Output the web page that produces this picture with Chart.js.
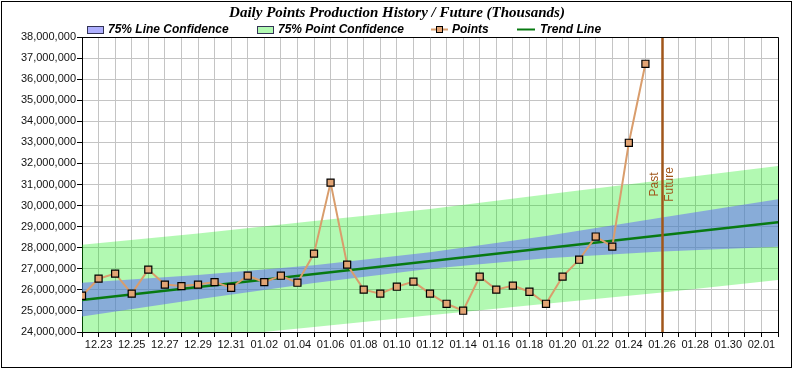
<!DOCTYPE html>
<html>
<head>
<meta charset="utf-8">
<script src="https://cdn.jsdelivr.net/npm/chart.js@4/dist/chart.umd.min.js"></script>
<style>
  html, body { margin: 0; padding: 0; background: #fff; }
  #wrap { width: 794px; height: 369px; position: relative; }
</style>
</head>
<body>
<div id="wrap"><canvas id="chart"></canvas></div>
<script>
// day labels, one per day from 12.22 to 02.02
const dayLabels = [
  '12.22', '12.23', '12.24', '12.25', '12.26', '12.27', '12.28', '12.29', '12.30', '12.31',
  '01.01', '01.02', '01.03', '01.04', '01.05', '01.06', '01.07', '01.08', '01.09', '01.10',
  '01.11', '01.12', '01.13', '01.14', '01.15', '01.16', '01.17', '01.18', '01.19', '01.20',
  '01.21', '01.22', '01.23', '01.24', '01.25', '01.26', '01.27', '01.28', '01.29', '01.30',
  '01.31', '02.01', '02.02',
];

// daily points, 12.22 .. 01.25
const pointValues = [
  25720000, 26530000, 26770000, 25820000, 26960000, 26250000, 26180000, 26250000, 26370000, 26100000,
  26670000, 26370000, 26670000, 26340000, 27720000, 31090000, 27200000, 26010000, 25820000, 26150000,
  26390000, 25820000, 25340000, 25010000, 26630000, 26010000, 26200000, 25910000, 25340000, 26630000,
  27430000, 28530000, 28050000, 32980000, 36730000,
];

const trendDays = [0, 42];
const trendValues = [25520000, 29210000];

// confidence bands read at weekly days
const bandDays = [0, 7, 14, 21, 28, 35, 42];
const lineUpper = [26340000, 26700000, 27170000, 27780000, 28560000, 29430000, 30300000];
const lineLower = [24730000, 25550000, 26320000, 27000000, 27500000, 27820000, 28050000];
const pointUpper = [28140000, 28680000, 29270000, 29840000, 30520000, 31200000, 31880000];
const pointLower = [23140000, 23690000, 24240000, 24790000, 25340000, 25880000, 26470000];

const pastFutureDay = 35;

const yMin = 24000000;
const yMax = 38000000;

const GREEN_FILL = 'rgba(0,235,0,0.3)';
const BLUE_FILL = 'rgba(94,95,253,0.5)';
const POINT_LINE = '#d99d6c';
const POINT_FILL = '#e2a474';
const TREND = '#087a12';
const PAST = '#a0561a';

const toXY = (xs, ys) => xs.map((x, i) => ({ x, y: ys[i] }));

const frame = {
  id: 'frame',
  beforeDraw(chart) {
    const { ctx, width, height } = chart;
    ctx.save();
    ctx.fillStyle = '#fff';
    ctx.fillRect(0, 0, width, height);
    ctx.restore();
  },
  afterDatasetsDraw(chart) {
    const { ctx, chartArea: a, scales } = chart;
    const x = Math.round(scales.x.getPixelForValue(pastFutureDay)) + 0.5;
    ctx.save();
    ctx.strokeStyle = PAST;
    ctx.lineWidth = 2.5;
    ctx.beginPath();
    ctx.moveTo(x, a.top);
    ctx.lineTo(x, a.bottom);
    ctx.stroke();

    ctx.fillStyle = PAST;
    ctx.font = '12px "Liberation Sans", Arial, sans-serif';
    ctx.textAlign = 'center';
    ctx.textBaseline = 'middle';
    const ty = scales.y.getPixelForValue(31000000);
    ctx.translate(x, ty);
    ctx.rotate(-Math.PI / 2);
    ctx.fillText('Past', 0, -8);
    ctx.fillText('Future', 0, 7);
    ctx.restore();
  },
  afterDraw(chart) {
    const { ctx, chartArea: a, width, height } = chart;
    ctx.save();
    // plot box
    ctx.strokeStyle = '#000';
    ctx.lineWidth = 1;
    ctx.beginPath();
    ctx.moveTo(Math.round(a.left) + 0.5, Math.round(a.top) + 0.5);
    ctx.lineTo(Math.round(a.right) + 0.5, Math.round(a.top) + 0.5);
    ctx.lineTo(Math.round(a.right) + 0.5, Math.round(a.bottom) + 0.5);
    ctx.stroke();
    // outer border
    ctx.strokeRect(1.5, 1.5, width - 4, height - 3);

    // title
    ctx.fillStyle = '#000';
    ctx.font = 'bold italic 15px "Liberation Serif", "Times New Roman", serif';
    ctx.textAlign = 'center';
    ctx.textBaseline = 'alphabetic';
    ctx.fillText('Daily Points Production History / Future (Thousands)', 397, 17);

    // legend
    ctx.font = 'bold italic 12px "Liberation Sans", Arial, sans-serif';
    ctx.textAlign = 'left';
    ctx.textBaseline = 'middle';
    const ly = 29.5;
    const box = (x, fill, label, tx) => {
      ctx.fillStyle = '#fff';
      ctx.fillRect(x, 26, 16, 7);
      ctx.fillStyle = fill;
      ctx.fillRect(x, 26, 16, 7);
      ctx.strokeStyle = '#333355';
      ctx.lineWidth = 1;
      ctx.strokeRect(x + 0.5, 26.5, 16, 7);
      ctx.fillStyle = '#000';
      ctx.fillText(label, tx, ly);
    };
    box(87, BLUE_FILL, '75% Line Confidence', 108);
    box(257, GREEN_FILL, '75% Point Confidence', 278);

    ctx.strokeStyle = POINT_LINE;
    ctx.lineWidth = 2;
    ctx.beginPath();
    ctx.moveTo(431, ly);
    ctx.lineTo(448, ly);
    ctx.stroke();
    ctx.fillStyle = POINT_FILL;
    ctx.fillRect(436.5, ly - 3, 6, 6);
    ctx.strokeStyle = '#000';
    ctx.lineWidth = 1;
    ctx.strokeRect(436.5, ly - 3, 6, 6);
    ctx.fillStyle = '#000';
    ctx.fillText('Points', 452, ly);

    ctx.strokeStyle = TREND;
    ctx.lineWidth = 2;
    ctx.beginPath();
    ctx.moveTo(517, ly);
    ctx.lineTo(535, ly);
    ctx.stroke();
    ctx.fillText('Trend Line', 540, ly);
    ctx.restore();
  },
};

new Chart(document.getElementById('chart'), {
  type: 'line',
  data: {
    datasets: [
      {
        label: 'Points',
        data: toXY(pointValues.map((_, i) => i), pointValues),
        borderColor: POINT_LINE,
        borderWidth: 2,
        pointStyle: 'rect',
        pointRadius: 5,
        pointBackgroundColor: POINT_FILL,
        pointBorderColor: '#000',
        pointBorderWidth: 1.2,
        fill: false,
        order: 1,
      },
      {
        label: 'Trend Line',
        data: toXY(trendDays, trendValues),
        borderColor: TREND,
        borderWidth: 2.5,
        pointRadius: 0,
        fill: false,
        order: 2,
      },
      {
        label: '75% Line Confidence',
        data: toXY(bandDays, lineUpper),
        borderWidth: 0,
        pointRadius: 0,
        backgroundColor: BLUE_FILL,
        fill: '+1',
        order: 3,
      },
      {
        label: 'line lower',
        data: toXY(bandDays, lineLower),
        borderWidth: 0,
        pointRadius: 0,
        fill: false,
        order: 3,
      },
      {
        label: '75% Point Confidence',
        data: toXY(bandDays, pointUpper),
        borderWidth: 0,
        pointRadius: 0,
        backgroundColor: GREEN_FILL,
        fill: '+1',
        order: 4,
      },
      {
        label: 'point lower',
        data: toXY(bandDays, pointLower),
        borderWidth: 0,
        pointRadius: 0,
        fill: false,
        order: 4,
      },
    ],
  },
  options: {
    responsive: true,
    maintainAspectRatio: false,
    animation: false,
    layout: { padding: { top: 37, right: 16, bottom: 0, left: 0 } },
    elements: { line: { tension: 0 } },
    plugins: {
      legend: { display: false },
      title: { display: false },
      tooltip: { enabled: false },
    },
    scales: {
      x: {
        type: 'linear',
        min: 0,
        max: 42,
        afterFit: (s) => { s.height = 37; },
        grid: { color: '#c4c4c4', tickColor: '#000', tickLength: 5 },
        border: { color: '#000' },
        ticks: {
          stepSize: 1,
          autoSkip: false,
          maxRotation: 0,
          minRotation: 0,
          padding: 1,
          color: '#111',
          font: { family: '"Liberation Sans", Arial, sans-serif', size: 11 },
          callback: (v) => {
            const i = Math.round(v);
            return i % 2 === 1 ? dayLabels[i] : '';
          },
        },
      },
      y: {
        min: yMin,
        max: yMax,
        afterFit: (s) => { s.width = 82; },
        grid: { color: '#c4c4c4', tickColor: '#000', tickLength: 5 },
        border: { color: '#000' },
        ticks: {
          stepSize: 1000000,
          padding: 1,
          color: '#111',
          font: { family: '"Liberation Sans", Arial, sans-serif', size: 11 },
          callback: (v) => v.toLocaleString('en-US'),
        },
      },
    },
  },
  plugins: [frame],
});
</script>
</body>
</html>
